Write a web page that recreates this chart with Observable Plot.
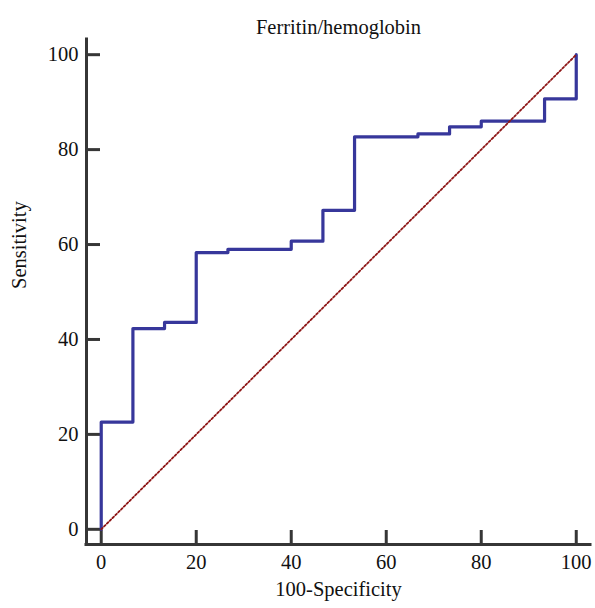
<!DOCTYPE html>
<html>
<head>
<meta charset="utf-8">
<script src="https://cdn.jsdelivr.net/npm/d3@7"></script>
<script src="https://cdn.jsdelivr.net/npm/@observablehq/plot@0.6"></script>
<style>
  html, body { margin: 0; padding: 0; background: #fff; }
</style>
</head>
<body>
<div id="chart"></div>
<script>
// ROC curve points (100-Specificity, Sensitivity), drawn as a step-after curve
const fpr = [0, 0, 6.67, 13.33, 20, 26.67, 40, 46.67, 53.33, 66.67, 73.33, 80, 93.33, 100];
const tpr = [0, 22.6, 42.3, 43.6, 58.3, 59.0, 60.7, 67.2, 82.7, 83.3, 84.8, 86.0, 90.7, 100];
const diagX = [0, 100];
const diagY = [0, 100];
const xTicks = [0, 20, 40, 60, 80, 100];
const yTicks = [0, 20, 40, 60, 80, 100];
const xDomain = [-3.1, 103];
const yDomain = [-3.2, 103.2];
const title = "Ferritin/hemoglobin";
const xLabel = "100-Specificity";
const yLabel = "Sensitivity";

const roc = fpr.map((x, i) => ({x, y: tpr[i]}));
const diag = diagX.map((x, i) => ({x, y: diagY[i]}));

const W = 595, H = 608;
const mL = 86, mR = 5, mT = 39, mB = 64;
const frameW = W - mL - mR, frameH = H - mT - mB;
const tickLen = 14;
const axisColor = "#363636";
const font = "'Liberation Serif', 'Times New Roman', serif";

const plot = Plot.plot({
  width: W,
  height: H,
  marginLeft: mL,
  marginRight: mR,
  marginTop: mT,
  marginBottom: mB,
  style: {fontFamily: font, fontSize: "20px", background: "#fff", color: "#111"},
  x: {domain: xDomain},
  y: {domain: yDomain},
  marks: [
    // tick labels
    Plot.axisX({ticks: xTicks, tickSize: 0, tickPadding: 10, fontSize: 20.5, label: null, tickFormat: d => String(d)}),
    Plot.axisY({ticks: yTicks, tickSize: 0, tickPadding: 8, fontSize: 20.5, label: null, tickFormat: d => String(d)}),
    // inward ticks
    Plot.tickX(xTicks, {x: d => d, insetTop: frameH - tickLen, stroke: axisColor, strokeWidth: 3}),
    Plot.tickY(yTicks, {y: d => d, insetRight: frameW - tickLen, stroke: axisColor, strokeWidth: 3}),
    // axis lines
    Plot.ruleY([yDomain[0]], {stroke: axisColor, strokeWidth: 3, strokeLinecap: "square"}),
    Plot.ruleX([xDomain[0]], {stroke: axisColor, strokeWidth: 3, strokeLinecap: "square"}),
    // ROC curve
    Plot.line(roc, {x: "x", y: "y", curve: "step-after", stroke: "#37379b", strokeWidth: 3.2}),
    // reference diagonal
    Plot.line(diag, {x: "x", y: "y", stroke: "#8e1616", strokeWidth: 1.8, strokeDasharray: "2,2"}),
    // titles
    Plot.text([title], {frameAnchor: "top", dy: -20, fontSize: 20.5, fill: "#111"}),
    Plot.text([xLabel], {frameAnchor: "bottom", dy: 51, fontSize: 20.5, fill: "#111"}),
    Plot.text([yLabel], {frameAnchor: "left", rotate: -90, dx: -67, dy: -3, fontSize: 20.5, fill: "#111"})
  ]
});
document.getElementById("chart").appendChild(plot);
</script>
</body>
</html>
